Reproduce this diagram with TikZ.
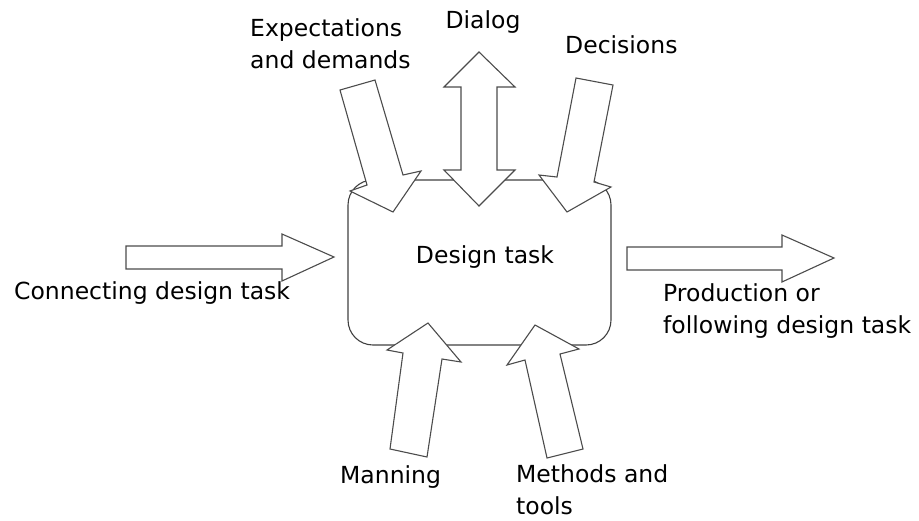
\documentclass[tikz,border=0pt]{standalone}
\usepackage{fontspec}
\setmainfont{DejaVu Sans}

\begin{document}
\begin{tikzpicture}
  [x=1pt,y=-1pt,
   block/.style={draw=black!75,line width=1.1pt,rounded corners=25pt},
   bigarrow/.style={draw=black!70,fill=white,line width=1.1pt,line join=miter},
   every node/.style={font=\fontsize{23.5}{32}\selectfont,align=left,inner sep=0pt}]
  \useasboundingbox (0,0) rectangle (919,520);

  % the task box
  \draw[block] (348,180) rectangle (611,345);
  \node (task) at (485,257) {Design task};

  % left and right arrows
  \draw[bigarrow] (126,246) -- (282,246) -- (282,234) -- (334,257) -- (282,281) -- (282,269) -- (126,269) -- cycle;
  \draw[bigarrow] (627,247) -- (782,247) -- (782,235) -- (834,258) -- (782,282) -- (782,270) -- (627,270) -- cycle;

  % arrows on top
  \draw[bigarrow] (479,52) -- (515,87) -- (497,87) -- (497,170) -- (515,170) -- (479,206) -- (444,170) -- (461,170) -- (461,87) -- (444,87) -- cycle;
  \draw[bigarrow] (340,90) -- (375,80) -- (403,175) -- (421,171) -- (393,212) -- (350,191) -- (367,185) -- cycle;
  \draw[bigarrow] (576,78) -- (613,85) -- (594,182) -- (611,187) -- (567,212) -- (539,175) -- (557,177) -- cycle;

  % arrows below
  \draw[bigarrow] (428,323) -- (461,362) -- (442,359) -- (427,457) -- (390,449) -- (403,353) -- (387,350) -- cycle;
  \draw[bigarrow] (535,325) -- (579,349) -- (560,354) -- (583,449) -- (547,458) -- (525,360) -- (507,365) -- cycle;

  % labels
  \node[anchor=west] (expect) at (250,44) {Expectations\\and demands};
  \node (dialog) at (483,22) {Dialog};
  \node[anchor=west] (decide) at (565,45) {Decisions};
  \node[anchor=west] (conn) at (14,293) {Connecting design task};
  \node[anchor=west] (prod) at (663,311) {Production or\\following design task};
  \node[anchor=west] (man) at (340,477) {Manning};
  \node[anchor=west] (meth) at (516,490) {Methods and\\tools};

\end{tikzpicture}
\end{document}
